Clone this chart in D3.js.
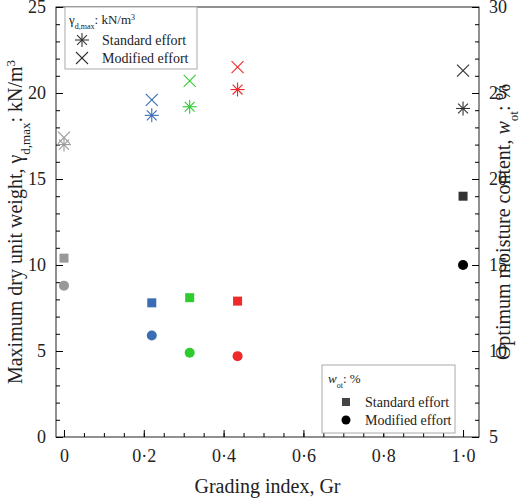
<!DOCTYPE html>
<html><head><meta charset="utf-8">
<script src="https://d3js.org/d3.v7.min.js"></script>
<style>body{margin:0;background:#fff}svg text{font-family:"Liberation Serif","Times New Roman","DejaVu Serif",serif !important;fill:#222}</style>
</head><body><div class="canvas"></div>
<script>
// data
const grading = [0, 0.22, 0.315, 0.435, 1.0];
const colors = ["#999999", "#3a6eb4", "#2ecc2e", "#ee2a2a", "#333333"];
const gammaStd = [17.0, 18.7, 19.2, 20.2, 19.1];
const gammaMod = [17.4, 19.6, 20.7, 21.5, 21.3];
const wStd = [15.4, 12.8, 13.1, 12.9, 19.0];
const wMod = [13.8, 10.9, 9.9, 9.7, 15.0];
const xTicks = [0, 0.2, 0.4, 0.6, 0.8, 1.0];

const w = 520, h = 501;
const m = { top: 7, right: 41, bottom: 64, left: 56 };
const svg = d3.select(".canvas").append("svg").attr("width", w).attr("height", h);
const x = d3.scaleLinear().domain([-0.02, 1.04]).range([m.left, w - m.right]);
const yL = d3.scaleLinear().domain([0, 25]).range([h - m.bottom, m.top]);
const yR = d3.scaleLinear().domain([5, 30]).range([h - m.bottom, m.top]);

// frame
svg.append("rect").attr("x", m.left).attr("y", m.top)
  .attr("width", w - m.left - m.right).attr("height", h - m.top - m.bottom)
  .attr("fill", "none").attr("stroke", "#222");

const fmt = (d) => d3.format(".1f")(d).replace(".", "·");
const styleAxis = (g) => { g.attr("font-family", null); g.select(".domain").remove(); g.selectAll("text").style("font-size", "18px"); };

// axes with inward ticks
svg.append("g").attr("transform", `translate(0,${h - m.bottom})`)
  .call(d3.axisBottom(x).tickValues(xTicks).tickFormat((d) => d === 0 ? "0" : fmt(d)).tickSizeInner(-7).tickPadding(12)).call(styleAxis);
svg.append("g").attr("transform", `translate(0,${h - m.bottom})`)
  .call(d3.axisBottom(x).tickValues(d3.range(0, 1.001, 0.05)).tickFormat("").tickSizeInner(-4)).call(styleAxis);
svg.append("g").attr("transform", `translate(${m.left},0)`)
  .call(d3.axisLeft(yL).tickValues(d3.range(0, 26, 5)).tickSizeInner(-7).tickPadding(10)).call(styleAxis);
svg.append("g").attr("transform", `translate(${m.left},0)`)
  .call(d3.axisLeft(yL).tickValues(d3.range(0, 26, 1)).tickFormat("").tickSizeInner(-4)).call(styleAxis);
svg.append("g").attr("transform", `translate(${w - m.right},0)`)
  .call(d3.axisRight(yR).tickValues(d3.range(5, 31, 5)).tickSizeInner(-7).tickPadding(10)).call(styleAxis);
svg.append("g").attr("transform", `translate(${w - m.right},0)`)
  .call(d3.axisRight(yR).tickValues(d3.range(5, 31, 1)).tickFormat("").tickSizeInner(-4)).call(styleAxis);

// axis titles
svg.append("text").attr("x", (m.left + w - m.right) / 2).attr("y", h - 8).attr("text-anchor", "middle")
  .style("font-size", "20px").text("Grading index, Gr");
svg.append("text").attr("transform", `translate(22,${(m.top + h - m.bottom) / 2}) rotate(-90)`).attr("text-anchor", "middle")
  .style("font-size", "20px")
  .html('Maximum dry unit weight, γ<tspan baseline-shift="sub" font-size="13px">d,max</tspan>: kN/m<tspan baseline-shift="super" font-size="13px">3</tspan>');
svg.append("text").attr("transform", `translate(${w - 10},${(m.top + h - m.bottom) / 2}) rotate(-90)`).attr("text-anchor", "middle")
  .style("font-size", "20px")
  .html('Optimum moisture content, <tspan font-style="italic">w</tspan><tspan baseline-shift="sub" font-size="13px">ot</tspan>: %');

// markers
const star = (g, cx, cy, c) => {
  [0, 45, 90, 135].forEach((a) => {
    const r = 7, t = a * Math.PI / 180;
    g.append("line").attr("x1", cx - r * Math.cos(t)).attr("y1", cy - r * Math.sin(t))
      .attr("x2", cx + r * Math.cos(t)).attr("y2", cy + r * Math.sin(t)).attr("stroke", c).attr("stroke-width", 1.1);
  });
};
const cross = (g, cx, cy, c) => {
  const r = 6;
  g.append("line").attr("x1", cx - r).attr("y1", cy - r).attr("x2", cx + r).attr("y2", cy + r).attr("stroke", c).attr("stroke-width", 1.1);
  g.append("line").attr("x1", cx - r).attr("y1", cy + r).attr("x2", cx + r).attr("y2", cy - r).attr("stroke", c).attr("stroke-width", 1.1);
};
const pts = svg.append("g");
grading.forEach((g, i) => {
  star(pts, x(g), yL(gammaStd[i]), colors[i]);
  cross(pts, x(g), yL(gammaMod[i]), colors[i]);
  pts.append("rect").attr("x", x(g) - 4.5).attr("y", yR(wStd[i]) - 4.5).attr("width", 9).attr("height", 9).attr("fill", colors[i]);
  pts.append("circle").attr("cx", x(g)).attr("cy", yR(wMod[i])).attr("r", 5).attr("fill", i === 4 ? "#000" : colors[i]);
});

// legend 1
const l1 = svg.append("g").attr("transform", "translate(65,7)");
l1.append("rect").attr("width", 132).attr("height", 62).attr("fill", "#fff").attr("stroke", "#aaa");
l1.append("text").attr("x", 4).attr("y", 17).style("font-size", "13px")
  .html('γ<tspan baseline-shift="sub" font-size="8px">d,max</tspan>: kN/m<tspan baseline-shift="super" font-size="8px">3</tspan>');
star(l1, 17, 33, "#333");
cross(l1, 17, 51, "#333");
l1.append("text").attr("x", 37).attr("y", 38).style("font-size", "14px").text("Standard effort");
l1.append("text").attr("x", 37).attr("y", 56).style("font-size", "14px").text("Modified effort");

// legend 2
const l2 = svg.append("g").attr("transform", "translate(322,365)");
l2.append("rect").attr("width", 133).attr("height", 68).attr("fill", "#fff").attr("stroke", "#aaa");
l2.append("text").attr("x", 6).attr("y", 18).style("font-size", "13px")
  .html('<tspan font-style="italic">w</tspan><tspan baseline-shift="sub" font-size="8px">ot</tspan>: %');
l2.append("rect").attr("x", 20).attr("y", 33).attr("width", 8).attr("height", 8).attr("fill", "#444");
l2.append("circle").attr("cx", 24).attr("cy", 55).attr("r", 4.5).attr("fill", "#000");
l2.append("text").attr("x", 43).attr("y", 42).style("font-size", "14px").text("Standard effort");
l2.append("text").attr("x", 43).attr("y", 60).style("font-size", "14px").text("Modified effort");
</script></body></html>
